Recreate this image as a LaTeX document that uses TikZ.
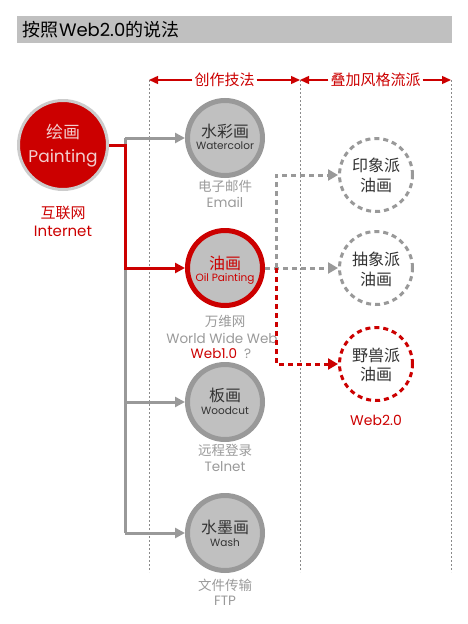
\documentclass[tikz,border=0pt]{standalone}
\usepackage{fontspec}
\setmainfont{Poppins}
\newfontfamily\cjk{Noto Sans CJK SC}
\usetikzlibrary{arrows.meta}
\definecolor{myred}{HTML}{CC0000}
\definecolor{cfill}{HTML}{C0C0C0}
\definecolor{cborder}{HTML}{999999}
\definecolor{dark}{HTML}{333333}
\definecolor{lgray}{HTML}{9A9A9A}
\definecolor{pborder}{HTML}{CCCCCC}
\definecolor{ptext}{HTML}{F2CECE}
\newcommand\myfs[1]{\fontsize{#1}{#1}\selectfont}
\begin{document}
\begin{tikzpicture}[x=1pt,y=-1pt,
  tech/.style={circle,draw=cborder,fill=cfill,line width=5pt,minimum size=75pt,inner sep=0pt},
  paint/.style={circle,draw=pborder,fill=myred,line width=3pt,minimum size=89pt,inner sep=0pt},
  stylecirc/.style={circle,draw=cborder,fill=white,line width=3pt,dash pattern=on 5pt off 4pt,minimum size=73pt,inner sep=0pt},
  txt/.style={inner sep=0pt,outer sep=0pt},
  guide/.style={draw=cborder!90!black,line width=0.8pt,dash pattern=on 2pt off 2pt},
  hdr/.style={draw=myred,line width=1.4pt,-{Triangle[length=9pt,width=8pt]}},
  grayline/.style={draw=cborder,line width=3pt},
  redline/.style={draw=myred,line width=3pt},
  tip/.style={-{Triangle[length=10pt,width=10pt]}},
  dtip/.style={-{Triangle[length=10pt,width=11pt]}},
  graydash/.style={draw=cborder,line width=3pt,dash pattern=on 5pt off 4pt},
  reddash/.style={draw=myred,line width=3pt,dash pattern=on 5pt off 4pt}
]
\useasboundingbox (0,0) rectangle (468,624);
% title bar
\fill[cfill] (17,16) rectangle (452,43);
\node[txt,anchor=west,text=black] (title) at (23,30) {\myfs{18}{\cjk 按照}Web2.0{\cjk 的说法}};
% guide lines
\coordinate (a0) at (149,80);
\coordinate (a1) at (300,80);
\coordinate (a2) at (451,80);
\coordinate (b0) at (149,572);
\coordinate (b1) at (300,572);
\coordinate (b2) at (451,572);
\draw[guide] (a0) -- (b0);
\draw[guide] (a1) -- (b1);
\draw[guide] (a2) -- (b2);
% headers
\node[fill=white,inner sep=2pt,text=myred] (h1) at (224.5,80) {\cjk\myfs{15}创作技法};
\node[fill=white,inner sep=2pt,text=myred] (h2) at (375.5,80) {\cjk\myfs{15}叠加风格流派};
\draw[hdr] (h1) -- (a0);
\draw[hdr] (h1) -- (a1);
\draw[hdr] (h2) -- (a1);
\draw[hdr] (h2) -- (a2);
% painting
\node[paint] (painting) at (63,145) {};
\node[txt,text=ptext] (pt1) at (63,132) {\cjk\myfs{17}绘画};
\node[txt,text=ptext] (pt2) at (63,158) {\myfs{17}Painting};
\node[txt,text=myred] (pl1) at (63,213) {\cjk\myfs{15}互联网};
\node[txt,text=myred] (pl2) at (63,231) {\myfs{15}Internet};
% technique circles
\node[tech] (wc) at (225,138) {};
\node[txt,text=dark] (wc1) at (225,131) {\cjk\myfs{16}水彩画};
\node[txt,text=dark] (wc2) at (225,146) {\myfs{10.5}Watercolor};
\node[txt,text=lgray] (wcl1) at (225,186) {\cjk\myfs{13.5}电子邮件};
\node[txt,text=lgray] (wcl2) at (225,202) {\myfs{13.5}Email};

\node[tech,draw=myred] (oil) at (225,268) {};
\node[txt,text=myred] (oil1) at (225,263) {\cjk\myfs{16}油画};
\node[txt,text=myred] (oil2) at (225,279) {\myfs{10.5}Oil Painting};
\node[txt,text=lgray] (oill1) at (225,321) {\cjk\myfs{13.5}万维网};
\node[txt,text=lgray] (oill2) at (222,338) {\myfs{13.5}World Wide Web};
\node[txt,text=lgray] (oill3) at (221,354) {\myfs{13.5}\textcolor{myred}{Web1.0}~ ?};

\node[tech] (wood) at (225,402) {};
\node[txt,text=dark] (wood1) at (225,395) {\cjk\myfs{16}板画};
\node[txt,text=dark] (wood2) at (225,411) {\myfs{10.5}Woodcut};
\node[txt,text=lgray] (woodl1) at (225,450) {\cjk\myfs{13.5}远程登录};
\node[txt,text=lgray] (woodl2) at (225,467) {\myfs{13.5}Telnet};

\node[tech] (wash) at (225,533) {};
\node[txt,text=dark] (wash1) at (225,527) {\cjk\myfs{16}水墨画};
\node[txt,text=dark] (wash2) at (225,543) {\myfs{10.5}Wash};
\node[txt,text=lgray] (washl1) at (225,585) {\cjk\myfs{13.5}文件传输};
\node[txt,text=lgray] (washl2) at (225,601) {\myfs{13.5}FTP};
% style circles
\node[stylecirc] (imp) at (376,175) {};
\node[txt,text=dark] (imp1) at (376,165) {\cjk\myfs{16}印象派};
\node[txt,text=dark] (imp2) at (376,185) {\cjk\myfs{16}油画};
\node[stylecirc] (abs) at (376,268) {};
\node[txt,text=dark] (abs1) at (376,259) {\cjk\myfs{16}抽象派};
\node[txt,text=dark] (abs2) at (376,279) {\cjk\myfs{16}油画};
\node[stylecirc,draw=myred] (fau) at (376,364) {};
\node[txt,text=dark] (fau1) at (376,355) {\cjk\myfs{16}野兽派};
\node[txt,text=dark] (fau2) at (376,374) {\cjk\myfs{16}油画};
\node[txt,text=myred] (w2) at (376,420) {\myfs{14}Web2.0};
% gray tree
\coordinate (g1) at (125,138);
\coordinate (g4) at (125,533);
\draw[grayline] (g1) -- (g4);
\draw[grayline,tip] (g1) -- (wc.west);
\draw[grayline,tip] (g4 |- wood.west) -- (wood.west);
\draw[grayline,tip] (g4) -- (wash.west);
% red path
\coordinate (bus) at (125,268);
\draw[redline,tip] (painting.east) -| (bus) -- (oil.west);
% dashed
\coordinate (d) at (276,268);
\draw[graydash,dtip] (oil.east) -- (abs.west);
\draw[graydash,dtip] (d) |- (imp.west);
\draw[reddash,dtip] (d) |- (fau.west);
\end{tikzpicture}
\end{document}
